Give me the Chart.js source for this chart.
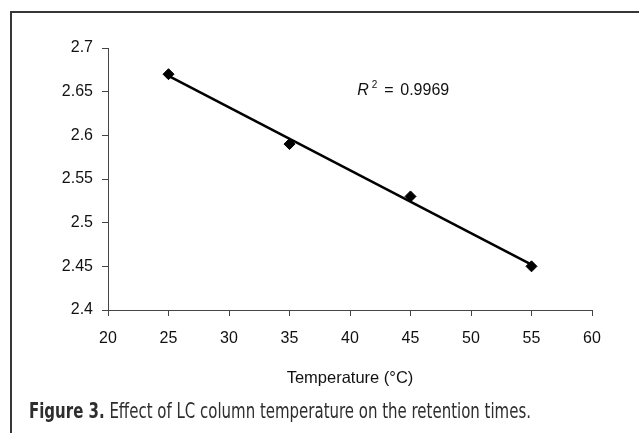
<!DOCTYPE html>
<html>
<head>
<meta charset="utf-8">
<script src="https://cdn.jsdelivr.net/npm/chart.js@4/dist/chart.umd.min.js"></script>
<style>
  html, body { margin: 0; padding: 0; background: #fff; }
  #wrap { position: relative; width: 639px; height: 433px; overflow: hidden; background: #fff; }
  #frame { position: absolute; left: 10px; top: 11px; right: -5px; bottom: -5px;
           border-top: 2px solid #363636; border-left: 2px solid #363636; }
  canvas { position: absolute; left: 0; top: 0; }
  #caption { position: absolute; left: 29px; top: 401px; white-space: nowrap;
             font-family: "Liberation Sans Narrow", "DejaVu Sans Condensed", "Roboto", sans-serif;
             font-size: 21px; color: #2e2e2e; transform-origin: 0 0; line-height: 1; }
  #caption b { font-weight: bold; }
</style>
</head>
<body>
<div id="wrap">
  <div id="frame"></div>
  <canvas id="c" width="639" height="433"></canvas>
  <div id="caption"><b>Figure 3.</b> Effect of LC column temperature on the retention times.</div>
</div>
<script>
// ---- data ----
const temperatures = [25, 35, 45, 55];
const retentionTimes = [2.67, 2.59, 2.53, 2.45];
const xTickLabels = ['20', '25', '30', '35', '40', '45', '50', '55', '60'];
const yTickLabels = ['2.4', '2.45', '2.5', '2.55', '2.6', '2.65', '2.7'];
const xAxisTitle = 'Temperature (°C)';
const r2Label = '0.9969';

// least-squares trend line through the measured points
const n = temperatures.length;
const mx = temperatures.reduce((a, b) => a + b, 0) / n;
const my = retentionTimes.reduce((a, b) => a + b, 0) / n;
let sxy = 0, sxx = 0;
for (let i = 0; i < n; i++) { sxy += (temperatures[i] - mx) * (retentionTimes[i] - my); sxx += (temperatures[i] - mx) ** 2; }
const slope = sxy / sxx, intercept = my - slope * mx;
const xFirst = temperatures[0], xLast = temperatures[n - 1];
const trend = [{ x: xFirst, y: intercept + slope * xFirst }, { x: xLast, y: intercept + slope * xLast }];

const FONT = "'Liberation Sans', Arial, sans-serif";

const r2Plugin = {
  id: 'r2text',
  afterDatasetsDraw(chart) {
    const { ctx, scales } = chart;
    const x = scales.x.getPixelForValue(40.6);
    const y = scales.y.getPixelForValue(2.652);
    ctx.save();
    ctx.fillStyle = '#111';
    ctx.textBaseline = 'middle';
    ctx.textAlign = 'left';
    ctx.font = 'italic 16px ' + FONT;
    ctx.fillText('R', x, y + 1);
    const w = ctx.measureText('R').width;
    ctx.font = '10px ' + FONT;
    ctx.fillText('2', x + w + 3, y - 5);
    ctx.font = '16px ' + FONT;
    ctx.fillText('=', x + 27, y + 1);
    ctx.fillText(r2Label, x + 43, y + 1);
    ctx.restore();
  }
};

new Chart(document.getElementById('c'), {
  type: 'scatter',
  data: {
    datasets: [
      {
        label: 'trend',
        data: trend,
        showLine: true,
        borderColor: '#000',
        borderWidth: 2.5,
        pointRadius: 0,
        order: 2
      },
      {
        label: 'Retention time',
        data: temperatures.map((t, i) => ({ x: t, y: retentionTimes[i] })),
        pointStyle: 'rectRot',
        pointRadius: 5.5,
        backgroundColor: '#000',
        borderColor: '#000',
        borderWidth: 1,
        order: 1
      }
    ]
  },
  options: {
    responsive: false,
    devicePixelRatio: 1,
    animation: false,
    layout: { padding: { left: 0, top: 48, right: 47, bottom: 45 } },
    plugins: { legend: { display: false }, tooltip: { enabled: false } },
    scales: {
      x: {
        type: 'linear',
        min: 20, max: 60,
        afterFit: s => { s.height = 78; },
        afterBuildTicks: s => { s.ticks = xTickLabels.map(v => ({ value: Number(v) })); },
        ticks: {
          color: '#111', padding: 13,
          font: { family: FONT, size: 16 },
          callback: v => xTickLabels.find(l => Number(l) === v) ?? ''
        },
        grid: { drawOnChartArea: false, drawTicks: true, tickLength: 6, color: '#444', lineWidth: 1 },
        border: { display: true, color: '#444', width: 1 },
        title: { display: true, text: xAxisTitle, color: '#111', font: { family: FONT, size: 16.5 }, padding: { top: 4, bottom: 0 } }
      },
      y: {
        type: 'linear',
        min: 2.4, max: 2.7,
        afterFit: s => { s.width = 108; },
        afterBuildTicks: s => { s.ticks = yTickLabels.map(v => ({ value: Number(v) })); },
        ticks: {
          color: '#111', padding: 9,
          font: { family: FONT, size: 16 },
          callback: v => yTickLabels.find(l => Math.abs(Number(l) - v) < 1e-9) ?? ''
        },
        grid: { drawOnChartArea: false, drawTicks: true, tickLength: 6, color: '#444', lineWidth: 1 },
        border: { display: true, color: '#444', width: 1 }
      }
    }
  },
  plugins: [r2Plugin]
});

// fit caption to its printed width
const cap = document.getElementById('caption');
const target = 502;
const wNow = cap.getBoundingClientRect().width;
if (wNow > 0) cap.style.transform = 'scaleX(' + (target / wNow) + ')';
</script>
</body>
</html>
